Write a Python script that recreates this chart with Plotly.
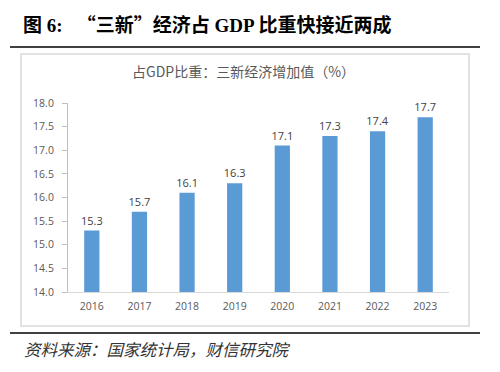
import plotly.graph_objects as go

years = ["2016", "2017", "2018", "2019", "2020", "2021", "2022", "2023"]
values = [15.3, 15.7, 16.1, 16.3, 17.1, 17.3, 17.4, 17.7]
labels = ["15.3", "15.7", "16.1", "16.3", "17.1", "17.3", "17.4", "17.7"]
y_ticks = [14.0, 14.5, 15.0, 15.5, 16.0, 16.5, 17.0, 17.5, 18.0]

# page body has an 8px margin; work in page coordinates and shift
OFF = 8
L, R, T, B = 68 - OFF, 449 - OFF, 103 - OFF, 292 - OFF
W, H = 500 - 2 * OFF, 372 - 2 * OFF

def px(x):
    return (x - OFF - L) / (R - L)

def py(y):
    return (B - (y - OFF)) / (B - T)

CJK = "font-family:'Noto Sans CJK SC'"

fig = go.Figure(go.Bar(
    x=years, y=values, text=labels, textposition="outside",
    constraintext="none",
    marker=dict(color="#5B9BD5", line=dict(width=0)),
    textfont=dict(family="Open Sans, Noto Sans", size=11, color="#404040"),
    cliponaxis=False,
))

fig.update_layout(
    width=W, height=H,
    margin=dict(l=L, r=W - R, t=T, b=H - B),
    paper_bgcolor="white", plot_bgcolor="white",
    bargap=0.68,
    showlegend=False,
    xaxis=dict(
        type="category", showgrid=False, showline=True, linecolor="#D9D9D9", linewidth=1,
        ticks="", ticklabelstandoff=4,
        tickfont=dict(family="Open Sans, Noto Sans", size=10.5, color="#595959"),
    ),
    yaxis=dict(
        range=[14.0, 18.0], tickvals=y_ticks, ticktext=[f"{v:.1f}" for v in y_ticks],
        showgrid=False, showline=True, linecolor="#BFBFBF", linewidth=1,
        ticks="outside", ticklen=5, tickcolor="#BFBFBF", ticklabelstandoff=6,
        tickfont=dict(family="Open Sans, Noto Sans", size=10.5, color="#595959"),
        zeroline=False,
    ),
    shapes=[
        dict(type="rect", xref="paper", yref="paper", x0=px(21), x1=px(469), y0=py(326), y1=py(54),
             line=dict(color="#D9D9D9", width=1.5), fillcolor="rgba(0,0,0,0)", layer="below"),
        dict(type="line", xref="paper", yref="paper", x0=px(10), x1=px(480), y0=py(47), y1=py(47),
             line=dict(color="#000000", width=1.5)),
        dict(type="line", xref="paper", yref="paper", x0=px(10), x1=px(480), y0=py(333), y1=py(333),
             line=dict(color="#000000", width=1.5)),
    ],
    annotations=[
        dict(text=("<b>图 6:&nbsp;&nbsp;&nbsp;<span style=\"" + CJK + "\">“三新”</span>经济占 GDP 比重快接近两成</b>"),
             xref="paper", yref="paper",
             x=px(21), y=py(23), xanchor="left", yanchor="middle", showarrow=False,
             font=dict(family="Liberation Serif, Noto Sans CJK SC", size=19, color="#000000")),
        dict(text="占GDP比重：三新经济增加值（%）", xref="paper", yref="paper",
             x=px(243), y=py(71), xanchor="center", yanchor="middle", showarrow=False,
             font=dict(family="Noto Sans CJK SC", size=14, color="#595959")),
        dict(text="<i>资料来源：国家统计局，财信研究院</i>", xref="paper", yref="paper",
             x=px(22), y=py(349), xanchor="left", yanchor="middle", showarrow=False,
             font=dict(family="Noto Sans CJK SC", size=16.5, color="#333333")),
    ],
)

fig.write_html("out.html")
